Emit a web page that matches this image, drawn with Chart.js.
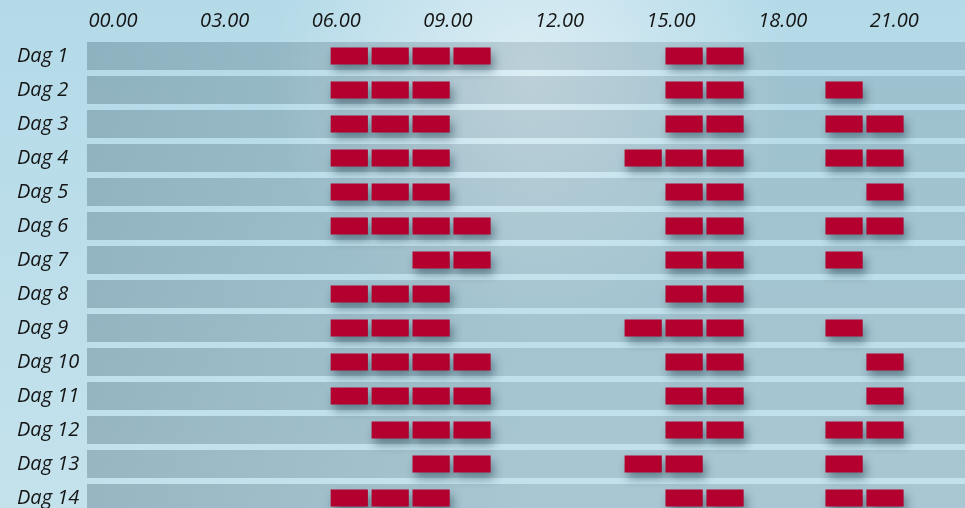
<!DOCTYPE html>
<html>
<head>
<meta charset="utf-8">
<script src="https://cdn.jsdelivr.net/npm/chart.js@4.4.1/dist/chart.umd.min.js"></script>
<style>
  html, body { margin: 0; padding: 0; background: #bcdeea; overflow: hidden; }
  #wrap { width: 965px; height: 508px; overflow: hidden; }
</style>
</head>
<body>
<div id="wrap"><canvas id="schema" width="965" height="520"></canvas></div>
<script>
// rows and top axis
const days = ['Dag 1', 'Dag 2', 'Dag 3', 'Dag 4', 'Dag 5', 'Dag 6', 'Dag 7',
              'Dag 8', 'Dag 9', 'Dag 10', 'Dag 11', 'Dag 12', 'Dag 13', 'Dag 14'];
const hourTicks = [0, 3, 6, 9, 12, 15, 18, 21];

// start time (hours) of each block column
const slotStart = [5.85, 6.95, 8.05, 9.15, 13.75, 14.85, 15.95, 19.15, 20.25];
const slotLength = 1.0;

// which block columns are filled on each day
const daySlots = [
    [0, 1, 2, 3, 5, 6],
    [0, 1, 2, 5, 6, 7],
    [0, 1, 2, 5, 6, 7, 8],
    [0, 1, 2, 4, 5, 6, 7, 8],
    [0, 1, 2, 5, 6, 8],
    [0, 1, 2, 3, 5, 6, 7, 8],
    [2, 3, 5, 6, 7],
    [0, 1, 2, 5, 6],
    [0, 1, 2, 4, 5, 6, 7],
    [0, 1, 2, 3, 5, 6, 8],
    [0, 1, 2, 3, 5, 6, 8],
    [1, 2, 3, 5, 6, 7, 8],
    [2, 3, 4, 5, 7],
    [0, 1, 2, 5, 6, 7, 8]
];

const xMin = -0.7;
const xMax = 22.9;

const blocks = [];
daySlots.forEach((slots, i) => {
    slots.forEach(s => blocks.push({ y: days[i], x: [slotStart[s], slotStart[s] + slotLength] }));
});
const rows = days.map(d => ({ y: d, x: [xMin, xMax] }));

const bgPlugin = {
    id: 'bg',
    beforeDraw(chart) {
        const ctx = chart.ctx;
        const w = chart.width, h = chart.height;
        ctx.save();
        const lin = ctx.createLinearGradient(0, 0, 0, h);
        lin.addColorStop(0, '#b4dae8');
        lin.addColorStop(1, '#c4e2ec');
        ctx.fillStyle = lin;
        ctx.fillRect(0, 0, w, h);
        const rad = ctx.createRadialGradient(530, 70, 10, 530, 70, 260);
        rad.addColorStop(0, 'rgba(255,255,255,0.5)');
        rad.addColorStop(1, 'rgba(255,255,255,0)');
        ctx.fillStyle = rad;
        ctx.fillRect(0, 0, w, h);
        ctx.restore();
    },
    // soft drop shadow under the red blocks (blocks have no border so the bar isn't clipped)
    beforeDatasetDraw(chart, args) {
        if (args.index !== 1) return;
        const ctx = chart.ctx;
        ctx.save();
        ctx.shadowColor = 'rgba(15,45,60,0.45)';
        ctx.shadowBlur = 10;
        ctx.shadowOffsetX = 3;
        ctx.shadowOffsetY = 6;
    },
    afterDatasetDraw(chart, args) {
        if (args.index !== 1) return;
        chart.ctx.restore();
    }
};

new Chart(document.getElementById('schema'), {
    type: 'bar',
    data: {
        labels: days,
        datasets: [
            {
                data: rows,
                order: 2,
                grouped: false,
                categoryPercentage: 1,
                barPercentage: 0.82,
                borderWidth: 0,
                backgroundColor: c => {
                    const a = c.chart.chartArea;
                    if (!a) return 'rgba(60,90,105,0.25)';
                    const g = c.chart.ctx.createLinearGradient(a.left, 0, a.right, 0);
                    g.addColorStop(0, 'rgba(60,90,105,0.32)');
                    g.addColorStop(0.5, 'rgba(60,90,105,0.2)');
                    g.addColorStop(1, 'rgba(60,90,105,0.2)');
                    return g;
                }
            },
            {
                data: blocks,
                order: 1,
                grouped: false,
                categoryPercentage: 1,
                barPercentage: 0.5,
                backgroundColor: '#b3002e',
                borderWidth: 0
            }
        ]
    },
    options: {
        indexAxis: 'y',
        responsive: false,
        animation: false,
        layout: { padding: { left: 17, top: 0, right: 0, bottom: 5 } },
        plugins: { legend: { display: false }, tooltip: { enabled: false } },
        scales: {
            x: {
                type: 'linear',
                position: 'top',
                min: xMin,
                max: xMax,
                grid: { display: false },
                border: { display: false },
                afterFit: s => { s.height = 39; },
                afterBuildTicks: s => { s.ticks = hourTicks.map(v => ({ value: v })); },
                ticks: {
                    padding: -2,
                    color: '#141414',
                    font: { family: 'Open Sans', size: 20, style: 'italic' },
                    callback: v => String(v).padStart(2, '0') + '.00'
                }
            },
            y: {
                type: 'category',
                grid: { display: false },
                border: { display: false },
                afterFit: s => { s.width = 70; s.paddingTop = 0; s.paddingBottom = 0; },
                ticks: {
                    crossAlign: 'far',
                    color: '#141414',
                    font: { family: 'Open Sans', size: 20, style: 'italic' }
                }
            }
        }
    },
    plugins: [bgPlugin]
});
</script>
</body>
</html>
